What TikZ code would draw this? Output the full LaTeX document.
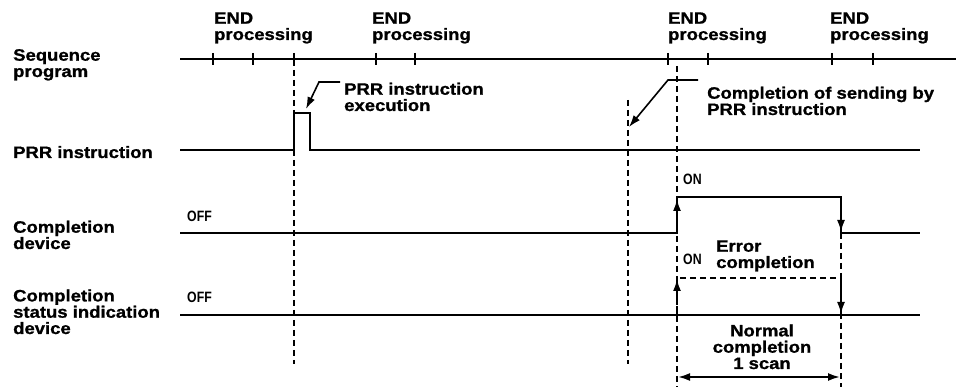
\documentclass[tikz,border=0pt]{standalone}
\usepackage{fontspec}
\setmainfont{Liberation Sans}[FakeStretch=1.12, BoldFeatures={FakeBold=1}]
\newfontfamily\condf{Liberation Sans}[FakeStretch=0.82]
\usetikzlibrary{arrows.meta}
\tikzset{
  lbl/.style={inner sep=0pt, anchor=base west, align=left, font=\fontsize{16.5}{16.3}\selectfont\bfseries},
  sm/.style={inner sep=0pt, anchor=base west, font=\fontsize{15}{15}\selectfont\condf\bfseries},
  sig/.style={line width=2pt},
  dsh/.style={line width=1.8pt, dash pattern=on 6pt off 4pt},
  arr/.style={-{Latex[length=12pt,width=8pt]}},
  darr/.style={{Latex[length=12pt,width=8pt]}-{Latex[length=12pt,width=8pt]}},
  tick/.style={line width=1.5pt},
}
\begin{document}
\begin{tikzpicture}[x=1pt,y=-1pt]
\useasboundingbox[fill=white] (0,0) rectangle (956,387);

% left labels (anchor = baseline of last line)
\node[lbl] (lseq) at (13,77) {Sequence\\program};
\node[lbl] (lprr) at (13,158) {PRR instruction};
\node[lbl] (lcd) at (13,249) {Completion\\device};
\node[lbl] (lcs) at (13,334) {Completion\\status indication\\device};

% END processing labels
\node[lbl] (e1) at (214,40) {END\\processing};
\node[lbl] (e2) at (372,40) {END\\processing};
\node[lbl] (e3) at (668,40) {END\\processing};
\node[lbl] (e4) at (830,40) {END\\processing};

% sequence program line
\coordinate (sA) at (180,59);
\coordinate (sB) at (956,59);
\draw[sig] (sA) -- (sB);
\foreach \x in {213,253,294,376,415,668,708,832,873}
  \draw[tick] (\x,53) -- (\x,65);

% PRR instruction signal
\coordinate (pA) at (180,150);
\coordinate (pB) at (920,150);
\draw[sig] (pA) -- (294,150) -- (294,113) -- (310,113) -- (310,150) -- (pB);

% completion device signal
\coordinate (cA) at (180,233);
\coordinate (cB) at (920,233);
\draw[sig] (cA) -- (677,233) -- (677,197) -- (841,197) -- (841,233) -- (cB);
\draw[sig,arr] (677,228) -- (677,199);
\draw[sig,arr] (841,205) -- (841,232);

% completion status signal
\coordinate (dA) at (180,315);
\coordinate (dB) at (920,315);
\draw[sig] (dA) -- (dB);
\draw[dsh] (677,315) -- (677,278) -- (841,278) -- (841,315);
\draw[sig,arr] (677,302) -- (677,279);
\draw[sig,arr] (841,290) -- (841,314);

% vertical dashed lines
\draw[dsh] (294,60) -- (294,364);
\draw[dsh] (628,100) -- (628,364);
\draw[dsh] (677,66) -- (677,387);
\draw[dsh] (841,233) -- (841,387);

% annotations
\node[lbl] (nprr) at (344,111) {PRR instruction\\execution};
\draw[line width=1.6pt,arr] (340,82) -- (319,82) -- (306,109);
\node[lbl] (ncs) at (707,115) {Completion of sending by\\PRR instruction};
\draw[line width=1.6pt,arr] (698,80) -- (668,80) -- (629,127);

\node[sm] (off1) at (187,222) {OFF};
\node[sm] (off2) at (187,303) {OFF};
\node[sm] (on1) at (683,185) {ON};
\node[sm] (on2) at (683,265) {ON};

\node[lbl] (err) at (716,268) {Error\\completion};
\node[lbl, anchor=base, align=center] (nrm) at (762,369) {Normal\\completion\\1 scan};

\draw[sig,darr] (678,377) -- (840,377);
\end{tikzpicture}
\end{document}
